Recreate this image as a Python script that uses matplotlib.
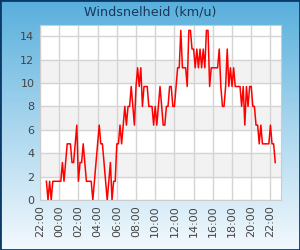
import numpy as np
import pandas as pd
import matplotlib
matplotlib.use("Agg")
import matplotlib.pyplot as plt
import matplotlib.dates as mdates
from matplotlib.colors import LinearSegmentedColormap

# wind speed (km/u), one reading every 10 minutes from 22:40
speed = [1.6, 0, 1.6, 0, 1.6, 1.6, 1.6, 1.6, 1.6, 1.6,
         3.2, 1.6, 3.2, 4.8, 4.8, 4.8, 3.2, 3.2, 4.8, 6.4,
         1.6, 3.2, 3.2, 4.8, 3.2, 1.6, 1.6, 1.6, 1.6, 0,
         1.6, 3.2, 4.8, 6.4, 4.8, 4.8, 3.2, 1.6, 0, 1.6,
         3.2, 0, 1.6, 1.6, 4.8, 4.8, 6.4, 4.8, 6.4, 8.0,
         6.4, 8.0, 8.0, 9.7, 8.0, 6.4, 9.7, 11.3, 9.7, 11.3,
         8.0, 9.7, 9.7, 9.7, 8.0, 8.0, 8.0, 6.4, 8.0, 6.4,
         8.0, 9.7, 8.0, 6.4, 6.4, 8.0, 8.0, 9.7, 9.7, 8.0,
         8.0, 9.7, 11.3, 11.3, 14.5, 11.3, 11.3, 11.3, 9.7, 14.5,
         14.5, 12.9, 12.9, 11.3, 12.9, 11.3, 12.9, 11.3, 12.9, 11.3,
         14.5, 14.5, 9.7, 11.3, 11.3, 11.3, 11.3, 11.3, 12.9, 9.7,
         8.0, 8.0, 9.7, 12.9, 9.7, 11.3, 9.7, 11.3, 9.7, 9.7,
         9.7, 9.7, 8.0, 9.7, 6.4, 9.7, 8.0, 9.7, 9.7, 8.0,
         8.0, 6.4, 6.4, 4.8, 6.4, 4.8, 4.8, 4.8, 4.8, 4.8,
         6.4, 4.8, 4.8, 3.2]
start = "2024-01-01 22:40"
x_start = pd.Timestamp("2024-01-01 22:00")
x_end = pd.Timestamp("2024-01-02 23:06")
y_ticks = [0, 2, 4, 6, 8, 10, 12, 14]

times = pd.date_range(start, periods=len(speed), freq="10min")

fig = plt.figure(figsize=(3, 2.5), dpi=100)

# background gradient
bg = fig.add_axes([0, 0, 1, 1], zorder=-1)
cmap = LinearSegmentedColormap.from_list("bg", ["#58afdc", "#a9d6ee", "#f3f9fd"])
bg.imshow(np.linspace(0, 1, 256).reshape(-1, 1), aspect="auto", cmap=cmap,
          extent=[0, 1, 0, 1])
bg.set_xlim(0, 1)
bg.set_ylim(0, 1)
bg.axis("off")
fig.patches.append(plt.Rectangle((0, 0), 1, 1, transform=fig.transFigure,
                                 fill=False, edgecolor="#0b3a68", lw=2))

ax = fig.add_axes([40/300, 50/250, 241/300, 175.5/250])
ax.set_facecolor("white")
for lo in [2, 6, 10]:
    ax.axhspan(lo, lo + 2, color="#f2f2f2", zorder=0)

ax.plot(times, speed, color="#ff0000", lw=1.1, zorder=3)

ax.set_xlim(x_start, x_end)
ax.set_ylim(0, 15)
ax.set_yticks(y_ticks)
ax.xaxis.set_major_locator(mdates.HourLocator(byhour=range(0, 24, 2)))
ax.xaxis.set_major_formatter(mdates.DateFormatter("%H:%M"))
ax.grid(True, color="#d4d4d4", lw=1, zorder=1)
ax.set_axisbelow(True)
ax.tick_params(length=0, labelsize=8, colors="#444444", pad=4)
ax.tick_params(axis="x", rotation=90)
for s in ax.spines.values():
    s.set_color("#cccccc")

fig.text(0.5, 1 - 12/250, "Windsnelheid (km/u)", ha="center", va="center",
         fontsize=9.2, color="#17385a")

fig.savefig("out.png", dpi=100)
